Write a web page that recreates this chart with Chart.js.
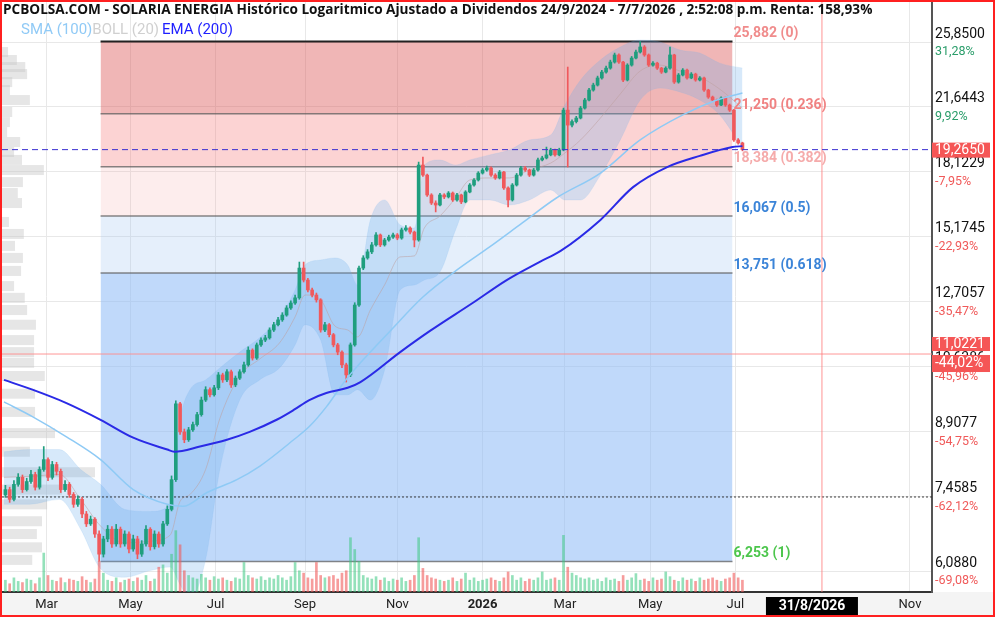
<!DOCTYPE html>
<html lang="es">
<head>
<meta charset="utf-8">
<title>SOLARIA ENERGIA</title>
<script src="https://cdn.jsdelivr.net/npm/chart.js@4.4.1/dist/chart.umd.min.js"></script>
<style>
  html, body { margin: 0; padding: 0; background: #fff; }
  canvas { display: block; }
</style>
</head>
<body>
<canvas id="grafico" width="995" height="617"></canvas>
<script>
// Velas: una cada 3 dias naturales desde el 1/2/2025 (dia 0)
const paso = 3;
const apertura0 = 7.50;
const cierres = [
  7.61, 7.41, 7.72, 7.87, 7.61, 7.78, 7.93, 7.66, 8.04, 8.26,
  7.87, 8.15, 8.00, 7.61, 7.72, 7.51, 7.31, 7.41, 7.12, 6.93,
  7.02, 6.74, 6.38, 6.65, 6.83, 6.56, 6.83, 6.56, 6.74, 6.47,
  6.65, 6.38, 6.56, 6.83, 6.51, 6.74, 6.56, 6.93, 7.21, 7.82,
  9.62, 8.91, 8.72, 8.96, 9.09, 9.34, 9.72, 10.00, 9.86, 10.05,
  10.41, 10.27, 10.50, 10.13, 10.32, 10.50, 10.70, 11.14, 10.90, 11.30,
  11.45, 11.52, 11.77, 11.94, 12.10, 12.26, 12.50, 12.67, 12.85, 13.94,
  13.49, 13.13, 12.95, 12.78, 11.77, 11.94, 11.62, 11.30, 11.08, 10.70,
  10.41, 11.30, 12.60, 13.94, 14.33, 14.57, 14.85, 15.26, 14.85, 15.05,
  15.17, 15.26, 15.13, 15.47, 15.55, 15.38, 15.05, 18.47, 17.97, 17.02,
  16.65, 16.56, 17.02, 16.93, 17.11, 16.79, 17.02, 16.70, 17.16, 17.49,
  17.73, 18.07, 18.22, 18.32, 17.97, 17.83, 18.12, 17.35, 16.79, 17.49,
  17.97, 18.32, 18.22, 17.97, 18.22, 18.73, 18.83, 18.99, 19.25, 18.99,
  19.25, 21.46, 20.60, 20.80, 21.00, 21.58, 22.06, 22.67, 22.98, 23.43,
  23.81, 24.07, 24.47, 24.95, 24.47, 23.30, 24.27, 24.74, 25.15, 25.50,
  24.95, 24.27, 24.40, 24.07, 23.81, 24.07, 24.95, 23.17, 23.62, 23.94,
  23.43, 23.68, 23.30, 23.43, 22.67, 22.24, 22.06, 21.76, 22.18, 21.76,
  21.46, 19.78, 19.62, 19.265
];
const maximos = [
  7.70, 7.66, 7.80, 7.95, 7.92, 7.85, 8.02, 7.98, 8.10, 8.56,
  8.30, 8.22, 8.20, 8.05, 7.80, 7.76, 7.55, 7.48, 7.45, 7.17,
  7.08, 7.05, 6.80, 6.70, 6.90, 6.88, 6.92, 6.87, 6.80, 6.78,
  6.72, 6.70, 6.62, 6.90, 6.86, 6.80, 6.78, 6.98, 7.28, 7.90,
  9.70, 9.66, 8.98, 9.02, 9.15, 9.40, 9.80, 10.08, 10.05, 10.12,
  10.48, 10.46, 10.56, 10.55, 10.38, 10.56, 10.78, 11.24, 11.18, 11.36,
  11.52, 11.60, 11.84, 12.02, 12.18, 12.34, 12.58, 12.75, 12.95, 14.17,
  14.17, 13.55, 13.20, 13.02, 12.82, 12.02, 11.98, 11.66, 11.35, 11.12,
  10.75, 11.36, 12.68, 14.02, 14.42, 14.66, 14.95, 15.36, 15.30, 15.12,
  15.25, 15.34, 15.32, 15.55, 15.65, 15.60, 15.42, 18.62, 18.88, 18.02,
  17.08, 16.75, 17.10, 17.08, 17.18, 17.16, 17.10, 17.06, 17.22, 17.56,
  17.80, 18.14, 18.30, 18.42, 18.38, 18.04, 18.20, 18.16, 17.40, 17.56,
  18.05, 18.40, 18.40, 18.27, 18.30, 18.82, 18.92, 19.40, 19.34, 19.30,
  19.34, 21.58, 24.14, 20.90, 21.10, 21.68, 22.16, 22.78, 23.10, 23.55,
  23.92, 24.20, 24.60, 25.08, 25.02, 24.52, 24.36, 24.85, 25.28, 25.88,
  25.60, 25.02, 24.50, 24.46, 24.12, 24.16, 25.50, 25.00, 23.72, 24.04,
  24.00, 23.78, 23.74, 23.52, 23.48, 22.72, 22.30, 22.12, 22.26, 22.24,
  21.82, 21.50, 19.86, 19.66
];
const minimos = [
  7.45, 7.35, 7.38, 7.68, 7.55, 7.58, 7.74, 7.60, 7.62, 8.00,
  7.80, 7.83, 7.92, 7.55, 7.57, 7.45, 7.25, 7.27, 7.05, 6.88,
  6.90, 6.68, 6.26, 6.33, 6.60, 6.50, 6.52, 6.50, 6.52, 6.40,
  6.43, 6.30, 6.34, 6.52, 6.45, 6.47, 6.50, 6.52, 6.90, 7.18,
  7.78, 8.85, 8.65, 8.68, 8.92, 9.05, 9.30, 9.68, 9.80, 9.82,
  10.00, 10.20, 10.22, 10.06, 10.08, 10.28, 10.46, 10.66, 10.84, 10.86,
  11.25, 11.40, 11.48, 11.72, 11.90, 12.05, 12.22, 12.45, 12.62, 12.80,
  13.42, 13.06, 12.88, 12.70, 11.70, 11.72, 11.55, 11.24, 11.00, 10.62,
  10.21, 10.36, 11.26, 12.55, 13.88, 14.28, 14.50, 14.80, 14.78, 14.80,
  15.00, 15.12, 15.06, 15.08, 15.42, 15.30, 14.77, 15.00, 17.90, 16.95,
  16.58, 16.25, 16.52, 16.85, 16.88, 16.72, 16.74, 16.62, 16.66, 17.12,
  17.44, 17.68, 18.02, 18.16, 17.90, 17.76, 17.78, 17.28, 16.47, 16.74,
  17.44, 17.92, 18.15, 17.90, 17.92, 18.16, 18.68, 18.78, 18.94, 18.92,
  18.94, 19.20, 18.37, 20.50, 20.72, 20.95, 21.52, 22.00, 22.60, 22.92,
  23.36, 23.74, 24.00, 24.40, 24.38, 23.20, 23.24, 24.20, 24.68, 25.08,
  24.86, 24.18, 24.20, 23.98, 23.72, 23.76, 24.00, 23.08, 23.10, 23.56,
  23.36, 23.38, 23.22, 23.24, 22.58, 22.16, 21.98, 21.68, 21.72, 21.68,
  21.38, 19.70, 19.55, 19.20
];
// volumen en millones de titulos
const volumen = [
  0.5, 0.35, 0.6, 0.45, 0.4, 0.55, 0.5, 0.35, 0.6, 1.65,
  0.7, 0.5, 0.45, 0.6, 0.4, 0.55, 0.5, 0.45, 0.65, 0.5,
  0.4, 0.55, 1.3, 0.8, 0.5, 0.45, 0.6, 0.4, 0.5, 0.55,
  0.45, 0.6, 0.5, 0.7, 0.45, 0.55, 1.05, 1.15, 0.8, 1.6,
  2.6, 2.0, 0.9, 0.7, 0.6, 0.55, 0.75, 0.6, 0.5, 0.65,
  0.55, 0.6, 0.5, 0.45, 0.6, 0.55, 1.25, 0.7, 0.6, 0.55,
  0.65, 0.5, 0.6, 0.55, 0.7, 0.6, 0.5, 0.65, 1.25, 0.9,
  0.8, 0.6, 0.55, 1.25, 0.7, 0.6, 0.65, 0.7, 0.55, 0.8,
  0.9, 2.3, 1.8, 1.3, 0.7, 0.6, 0.55, 0.65, 0.5, 0.6,
  0.45, 0.55, 0.5, 0.6, 0.45, 0.5, 0.7, 2.3, 1.0, 0.7,
  0.6, 0.55, 0.5, 0.45, 0.5, 0.6, 0.45, 0.55, 0.8, 0.5,
  0.6, 0.45, 0.5, 0.55, 0.6, 0.5, 0.45, 0.6, 0.85, 0.7,
  0.5, 0.6, 0.45, 0.55, 0.5, 0.6, 0.85, 0.5, 0.55, 0.6,
  0.5, 2.4, 1.05, 0.8, 0.7, 0.6, 0.55, 0.6, 0.5, 0.55,
  0.45, 0.6, 0.5, 0.55, 0.45, 0.7, 0.5, 0.6, 0.78, 0.5,
  0.55, 0.45, 0.6, 0.5, 0.55, 0.85, 0.65, 0.5, 0.45, 0.6,
  0.5, 0.55, 0.45, 0.6, 0.5, 0.55, 0.6, 0.5, 0.45, 0.55,
  0.6, 0.8, 0.6, 0.5
];

// Medias e indicadores (dia, valor)
const emaDias = [0, 20, 44, 68, 91, 115, 120, 138, 157, 173, 192, 204, 215, 227, 242, 251, 279, 300, 330, 354, 377, 392, 420, 443, 467, 490, 513, 520];
const emaValores = [10.27, 10.00, 9.64, 9.21, 8.77, 8.49, 8.44, 8.56, 8.72, 8.91, 9.21, 9.46, 9.72, 9.91, 10.05, 10.21, 11.08, 11.74, 12.67, 13.49, 14.17, 14.61, 15.90, 17.39, 18.37, 18.94, 19.40, 19.45];
const smaDias = [0, 20, 44, 68, 91, 115, 126, 143, 164, 180, 204, 215, 227, 239, 251, 272, 295, 319, 342, 365, 389, 420, 448, 478, 502, 520];
const smaValores = [9.67, 9.29, 8.79, 8.26, 7.61, 7.31, 7.27, 7.55, 7.82, 8.11, 8.72, 9.04, 9.54, 10.18, 10.76, 11.74, 12.88, 13.87, 14.77, 15.77, 16.88, 18.07, 19.78, 21.18, 22.06, 22.49];
const bollDias = [0, 18, 39, 54, 68, 85, 103, 117, 124, 131, 142, 152, 166, 180, 194, 205, 212, 223, 233, 242, 249, 258, 268, 279, 289, 296, 307, 318, 328, 342, 356, 370, 385, 395, 406, 420, 434, 448, 462, 476, 490, 504, 520];
const bollSup = [8.44, 8.49, 8.49, 8.04, 7.72, 7.21, 7.17, 7.31, 9.21, 10.00, 10.27, 10.61, 11.08, 11.52, 12.17, 13.13, 14.06, 14.25, 14.33, 14.06, 13.31, 15.90, 16.79, 15.68, 15.55, 18.47, 18.73, 18.47, 18.73, 18.99, 19.25, 19.78, 20.05, 21.76, 23.30, 24.61, 25.50, 25.99, 25.85, 25.29, 25.08, 24.40, 24.07];
const bollMed = [7.87, 7.89, 7.93, 7.41, 6.89, 6.58, 6.61, 6.72, 7.37, 7.51, 8.04, 9.24, 10.38, 10.87, 11.36, 12.20, 12.95, 12.78, 11.90, 11.77, 11.55, 12.43, 13.31, 14.37, 14.41, 15.55, 16.07, 16.88, 17.73, 17.83, 17.83, 18.22, 18.57, 19.09, 19.78, 21.00, 22.43, 23.88, 24.27, 23.88, 23.49, 22.73, 21.58];
const bollInf = [7.31, 7.31, 7.41, 6.83, 6.13, 5.99, 6.10, 6.16, 5.87, 5.64, 6.29, 8.04, 9.72, 10.27, 10.61, 11.30, 11.94, 11.45, 9.86, 9.86, 10.00, 9.72, 10.55, 13.13, 13.31, 13.49, 13.79, 15.47, 16.79, 16.79, 16.56, 16.79, 17.25, 16.79, 16.79, 17.97, 19.78, 22.06, 22.79, 22.55, 22.06, 21.18, 19.35];

// Retroceso de Fibonacci
const fibNiveles = [25.882, 21.250, 18.384, 16.067, 13.751, 6.253];
const fibRatios = ['0', '0.236', '0.382', '0.5', '0.618', '1'];
const fibDesde = 68;
const fibHasta = 513;

// Perfil de volumen por precio (izquierda)
const perfilPrecios = [25.15, 24.61, 24.14, 23.68, 23.17, 22.67, 22.06, 21.35, 20.77, 20.21, 19.67, 19.14, 18.73, 18.22, 17.63, 17.11, 16.65, 15.81, 15.30, 14.81, 14.33, 13.83, 13.27, 12.85, 12.43, 11.94, 11.45, 11.08, 10.76, 10.38, 9.89, 9.41, 8.88, 8.44, 7.98, 7.61, 7.31, 6.98, 6.74, 6.50, 6.28];
const perfilVolumen = [1.3, 3.2, 5, 5.4, 2.2, 1.7, 6, 2.2, 1.7, 1.1, 3.9, 2.6, 4.3, 9, 4.5, 3.4, 4.3, 1.5, 4.7, 2.8, 4.5, 4.1, 2.6, 4.9, 5.4, 7.3, 6.9, 6.9, 6.9, 9.2, 7.1, 7.1, 11.4, 6, 20, 12.9, 9.7, 8.6, 7.5, 8.6, 6.5];
const perfilMaximo = 200;

// Ejes
const yTicks = [25.85, 21.6443, 18.1229, 15.1745, 12.7057, 10.6386, 8.9077, 7.4585, 6.0880];
const yPorcentajes = ['31,28%', '9,92%', '-7,95%', '-22,93%', '-35,47%', '-45,96%', '-54,75%', '-62,12%', '-69,08%'];
const xTicks = [30, 89, 149, 212, 277, 337, 395, 455, 515, 638];
const xEtiquetas = ['Mar', 'May', 'Jul', 'Sep', 'Nov', '2026', 'Mar', 'May', 'Jul', 'Nov'];

const precioActual = 19.265;
const precioMarca = 11.0221;
const porcentajeMarca = '-44,02%';
const precioPunteado = 7.4585;
const diaFecha = 576;
const etiquetaFecha = '31/8/2026';

const yMin = 5.7532, yMax = 28.835;
const xMin = -1.4, xMax = 653.5;

const titulo = 'PCBOLSA.COM - SOLARIA ENERGIA Histórico Logaritmico Ajustado a Dividendos 24/9/2024 - 7/7/2026 , 2:52:08 p.m. Renta: 158,93%';

// ---------------------------------------------------------------
const dias = cierres.map((c, i) => 1 + paso * i);
const aperturas = cierres.map((c, i) => i === 0 ? apertura0 : cierres[i - 1]);
const sube = cierres.map((c, i) => c >= aperturas[i]);

const verde = '#1f9e7e';
const rojo = '#f0595c';
const fibRelleno = [null, 'rgba(220,80,80,0.42)', 'rgba(245,120,120,0.33)', 'rgba(245,150,150,0.17)', 'rgba(150,190,240,0.25)', 'rgba(140,185,245,0.55)'];
const fibColores = ['#f08c8c', '#f08282', '#f5abab', '#3b84d8', '#3b84d8', '#4cc64c'];

function lineaH(valor, color, dash, orden) {
  return {
    type: 'line',
    data: [{ x: xMin, y: valor }, { x: xMax, y: valor }],
    borderColor: color, borderWidth: 1, borderDash: dash,
    pointRadius: 0, fill: false, order: orden
  };
}

const datasets = [];

// bandas de fibonacci
fibNiveles.forEach((n, i) => {
  datasets.push({
    type: 'line',
    data: [{ x: fibDesde, y: n }, { x: fibHasta, y: n }],
    borderColor: i === 0 ? '#222' : 'rgba(95,95,95,0.75)',
    borderWidth: i === 0 ? 2 : 1.5,
    pointRadius: 0,
    fill: i === 0 ? false : '-1',
    backgroundColor: fibRelleno[i] || 'transparent',
    order: 100
  });
});

// bandas de bollinger
datasets.push({
  type: 'line', data: bollDias.map((d, i) => ({ x: d, y: bollSup[i] })),
  borderColor: 'rgba(120,180,235,0.15)', borderWidth: 1, pointRadius: 0,
  cubicInterpolationMode: 'monotone', fill: false, order: 80
});
datasets.push({
  type: 'line', data: bollDias.map((d, i) => ({ x: d, y: bollInf[i] })),
  borderColor: 'rgba(120,180,235,0.15)', borderWidth: 1, pointRadius: 0,
  cubicInterpolationMode: 'monotone', fill: '-1',
  backgroundColor: 'rgba(100,170,235,0.26)', order: 80
});
datasets.push({
  type: 'line', data: bollDias.map((d, i) => ({ x: d, y: bollMed[i] })),
  borderColor: 'rgba(190,160,160,0.55)', borderWidth: 1, pointRadius: 0,
  cubicInterpolationMode: 'monotone', fill: false, order: 75
});

// volumen
datasets.push({
  type: 'bar', yAxisID: 'yVol',
  data: dias.map((d, i) => ({ x: d, y: volumen[i] })),
  backgroundColor: sube.map(s => s ? 'rgba(60,200,130,0.55)' : 'rgba(240,90,90,0.6)'),
  barThickness: 2, grouped: false, order: 70
});

// lineas horizontales
datasets.push(lineaH(precioPunteado, 'rgba(40,40,40,0.9)', [2, 2], 60));
datasets.push(lineaH(precioMarca, 'rgba(255,140,140,0.9)', [], 60));

// velas: mechas y cuerpos
datasets.push({
  type: 'bar',
  data: dias.map((d, i) => ({ x: d, y: [minimos[i], maximos[i]] })),
  backgroundColor: sube.map(s => s ? verde : rojo),
  barThickness: 1, grouped: false, order: 50
});
datasets.push({
  type: 'bar',
  data: dias.map((d, i) => ({ x: d, y: [aperturas[i], cierres[i]] })),
  backgroundColor: sube.map(s => s ? verde : rojo),
  barThickness: 3, grouped: false, order: 49
});

// medias
datasets.push({
  type: 'line', data: smaDias.map((d, i) => ({ x: d, y: smaValores[i] })),
  borderColor: '#8ecaf5', borderWidth: 1.5, pointRadius: 0,
  cubicInterpolationMode: 'monotone', fill: false, order: 30
});
datasets.push({
  type: 'line', data: emaDias.map((d, i) => ({ x: d, y: emaValores[i] })),
  borderColor: '#2a2ae6', borderWidth: 2, pointRadius: 0,
  cubicInterpolationMode: 'monotone', fill: false, order: 20
});

// precio actual y linea vertical de fecha
datasets.push(lineaH(precioActual, '#3a2fd0', [6, 4], 10));
datasets.push({
  type: 'line',
  data: [{ x: diaFecha, y: yMin }, { x: diaFecha, y: yMax }],
  borderColor: 'rgba(255,120,120,0.8)', borderWidth: 1, pointRadius: 0, fill: false, order: 10
});

const decoracion = {
  id: 'decoracion',
  beforeDraw(chart) {
    const c = chart.ctx;
    c.save();
    c.fillStyle = '#ffffff';
    c.fillRect(0, 0, chart.width, chart.height);
    c.fillStyle = '#f4f4f4';
    c.fillRect(0, chart.chartArea.bottom, chart.width, chart.height - chart.chartArea.bottom);
    c.restore();
  },
  beforeDatasetsDraw(chart) {
    // perfil de volumen por precio, pegado a la izquierda
    const c = chart.ctx;
    const ya = chart.scales.y;
    const area = chart.chartArea;
    c.save();
    c.fillStyle = 'rgba(200,200,200,0.45)';
    perfilPrecios.forEach((p, i) => {
      const py = ya.getPixelForValue(p);
      c.fillRect(area.left, py - 5, perfilVolumen[i] / perfilMaximo * area.width, 10);
    });
    c.restore();
  },
  afterDraw(chart) {
    const c = chart.ctx;
    const ya = chart.scales.y;
    const xa = chart.scales.x;
    const area = chart.chartArea;
    c.save();

    // porcentajes del eje
    c.font = '12.5px Roboto';
    c.textAlign = 'left';
    c.textBaseline = 'middle';
    yTicks.forEach((v, i) => {
      c.fillStyle = yPorcentajes[i].startsWith('-') ? '#f05a5a' : '#2a9d6a';
      c.fillText(yPorcentajes[i], area.right + 3, ya.getPixelForValue(v) + 9.5);
    });

    // etiquetas de fibonacci
    c.font = 'bold 14px Roboto';
    c.textBaseline = 'bottom';
    fibNiveles.forEach((n, i) => {
      c.fillStyle = fibColores[i];
      c.fillText(n.toFixed(3).replace('.', ',') + ' (' + fibRatios[i] + ')', xa.getPixelForValue(fibHasta) + 1, ya.getPixelForValue(n) - 1);
    });

    // marcas de precio
    c.font = '14px Roboto';
    c.textBaseline = 'middle';
    const pa = ya.getPixelForValue(precioActual);
    c.fillStyle = '#f55656';
    c.fillRect(area.right, pa - 7, 58, 15);
    c.fillStyle = '#fff';
    c.fillText(precioActual.toFixed(4).replace('.', ','), area.right + 3, pa + 0.5);
    const pm = ya.getPixelForValue(precioMarca);
    c.fillStyle = '#f55656';
    c.fillRect(area.right, pm - 17, 58, 14);
    c.fillRect(area.right, pm + 1, 58, 17);
    c.fillStyle = '#fff';
    c.fillText(precioMarca.toFixed(4).replace('.', ','), area.right + 3, pm - 10);
    c.fillText(porcentajeMarca, area.right + 3, pm + 9.5);

    // fecha
    const xf = xa.getPixelForValue(diaFecha) - 10;
    c.fillStyle = '#000';
    c.fillRect(xf - 46, area.bottom + 5, 92, 18);
    c.fillStyle = '#fff';
    c.font = 'bold 14px Roboto';
    c.textAlign = 'center';
    c.fillText(etiquetaFecha, xf, area.bottom + 14.5);

    // titulo y leyenda
    c.textAlign = 'left';
    c.fillStyle = '#111';
    c.font = 'bold 13.6px "Open Sans"';
    c.fillText(titulo, 3, 10);
    c.font = '15px Roboto';
    let lx = 21;
    [['SMA (100)', '#90caf6'], ['BOLL (20)', '#d0d0d0'], ['EMA (200)', '#1f1fff']].forEach(([t, col], i) => {
      c.fillStyle = col;
      c.fillText(t, lx, 30);
      lx += c.measureText(t).width + (i === 1 ? 3 : 0);
    });

    // borde
    c.strokeStyle = '#ff2020';
    c.lineWidth = 2;
    c.strokeRect(1, 1, chart.width - 2, chart.height - 2);
    c.restore();
  }
};

Chart.defaults.font.family = 'Roboto';

new Chart(document.getElementById('grafico'), {
  type: 'bar',
  data: { datasets },
  options: {
    responsive: false,
    animation: false,
    events: [],
    layout: { padding: { top: 2, left: 2, right: 2, bottom: 2 } },
    plugins: { legend: { display: false }, tooltip: { enabled: false } },
    scales: {
      x: {
        type: 'linear', min: xMin, max: xMax, offset: false,
        grid: { color: '#e8e8e8', offset: false, drawTicks: false },
        border: { display: true, color: '#333', width: 2 },
        afterBuildTicks: (s) => { s.ticks = xTicks.map(v => ({ value: v })); },
        afterFit: (s) => { s.height = 23; s.paddingLeft = 0; s.paddingRight = 0; },
        ticks: {
          autoSkip: false, maxRotation: 0, padding: 5, color: '#222',
          font: (ctx) => ({ size: 13, weight: ctx.tick && ctx.tick.label === '2026' ? 'bold' : 'normal' }),
          callback: (v) => xEtiquetas[xTicks.indexOf(v)]
        }
      },
      y: {
        type: 'logarithmic', position: 'right', min: yMin, max: yMax,
        grid: { color: '#e8e8e8', drawTicks: false },
        border: { display: true, color: '#555', width: 2 },
        afterBuildTicks: (s) => { s.ticks = yTicks.map(v => ({ value: v })); },
        afterFit: (s) => { s.width = 61; s.paddingTop = 0; s.paddingBottom = 0; },
        ticks: {
          autoSkip: false, padding: 3, labelOffset: -8, color: '#111',
          font: { size: 14 },
          callback: (v) => Number(v).toFixed(4).replace('.', ',')
        }
      },
      yVol: { type: 'linear', axis: 'y', display: false, min: 0, max: 25 }
    }
  },
  plugins: [decoracion]
});
</script>
</body>
</html>
